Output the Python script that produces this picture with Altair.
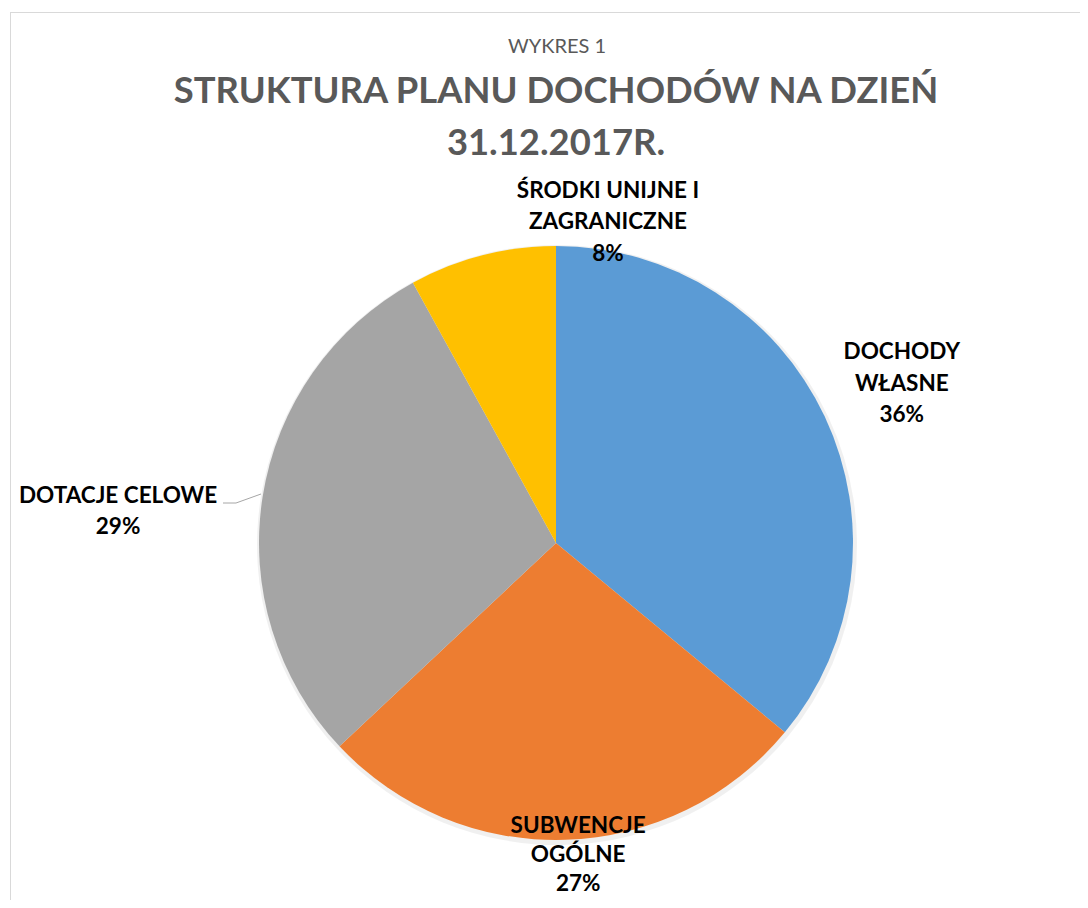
import altair as alt
import pandas as pd

# ---- data ----
categories = ["DOCHODY WŁASNE", "SUBWENCJE OGÓLNE", "DOTACJE CELOWE", "ŚRODKI UNIJNE I ZAGRANICZNE"]
shares = [36, 27, 29, 8]
label_texts = [
    "DOCHODY\nWŁASNE\n36%",
    "SUBWENCJE\nOGÓLNE\n27%",
    "DOTACJE CELOWE\n29%",
    "ŚRODKI UNIJNE I\nZAGRANICZNE\n8%",
]
colors = ["#5B9BD5", "#ED7D31", "#A5A5A5", "#FFC000"]
subtitle_text = "WYKRES 1"
title_lines = ["STRUKTURA PLANU DOCHODÓW NA DZIEŃ", "31.12.2017R."]

df = pd.DataFrame({
    "cat": categories,
    "share": shares,
    "order": list(range(len(categories))),
    "label": label_texts,
})

FONT = "Lato"
CX, CY, R = 548, 535, 297

base = alt.Chart(df).encode(
    theta=alt.Theta("share:Q", stack=True),
    order=alt.Order("order:Q"),
)

pie = base.mark_arc(radius=R).encode(
    x=alt.value(CX), y=alt.value(CY),
    color=alt.Color("cat:N", scale=alt.Scale(domain=categories, range=colors), legend=None),
)

shadow = base.mark_arc(radius=R + 3, color="#000000", opacity=0.06).encode(
    x=alt.value(CX + 1), y=alt.value(CY + 2),
)

# label placement per slice: (radius, dx, dy, number of lines, line height)
placements = {
    "DOCHODY WŁASNE": (370, 11, -1.5, 3, 31.5),
    "SUBWENCJE OGÓLNE": (323, 12, -11, 3, 29),
    "DOTACJE CELOWE": (330, -112, 20, 2, 31.5),
    "ŚRODKI UNIJNE I ZAGRANICZNE": (330, 134, -1, 3, 31.5),
}
label_layers = []
for cat, (rad, dx, dy, n, lh) in placements.items():
    label_layers.append(
        base.mark_text(radius=rad, dx=dx, dy=dy - (n - 1) * lh / 2, font=FONT, fontWeight="bold",
                       fontSize=22.5, lineBreak="\n", lineHeight=lh, align="center",
                       baseline="middle", color="#000000").encode(
            x=alt.value(CX), y=alt.value(CY),
            text="label:N",
            opacity=alt.condition(alt.datum.cat == cat, alt.value(1), alt.value(0)),
        )
    )

one = alt.Chart(pd.DataFrame({"k": [0]}))

leader1 = one.mark_rule(color="#A6A6A6", strokeWidth=1).encode(
    x=alt.value(215), x2=alt.value(228), y=alt.value(495), y2=alt.value(495))
leader2 = one.mark_rule(color="#A6A6A6", strokeWidth=1).encode(
    x=alt.value(228), x2=alt.value(253), y=alt.value(495), y2=alt.value(486))

frame_top = one.mark_rule(color="#D9D9D9", strokeWidth=1).encode(
    x=alt.value(2), x2=alt.value(1072), y=alt.value(4.5), y2=alt.value(4.5))
frame_left = one.mark_rule(color="#D9D9D9", strokeWidth=1).encode(
    x=alt.value(2.5), x2=alt.value(2.5), y=alt.value(4), y2=alt.value(892))

sub = one.mark_text(font=FONT, fontSize=20, color="#595959", align="center", baseline="middle").encode(
    x=alt.value(549), y=alt.value(39), text=alt.value(subtitle_text))
t1 = one.mark_text(font=FONT, fontSize=36.4, fontWeight="bold", color="#595959", align="center", baseline="middle").encode(
    x=alt.value(548), y=alt.value(84), text=alt.value(title_lines[0]))
t2 = one.mark_text(font=FONT, fontSize=36.4, fontWeight="bold", color="#595959", align="center", baseline="middle").encode(
    x=alt.value(548), y=alt.value(136), text=alt.value(title_lines[1]))

chart = alt.layer(
    frame_top, frame_left, shadow, pie, leader1, leader2, *label_layers, sub, t1, t2
).properties(
    width=1072, height=892, autosize=alt.AutoSizeParams(type="none"), padding=0,
    background="white",
).configure_view(stroke=None)

chart.save("out.html", embed_options={"renderer": "svg", "actions": False})
